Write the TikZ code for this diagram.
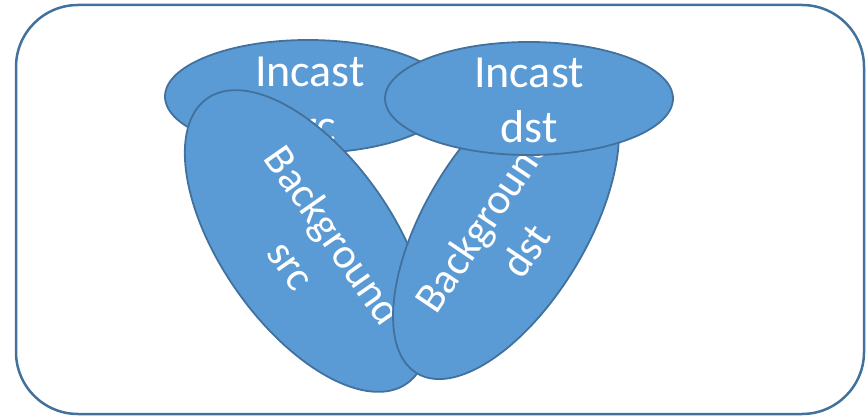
\documentclass[tikz,border=0pt]{standalone}
\usepackage{fontspec}
\setmainfont{Carlito}
\usetikzlibrary{shapes.geometric}
\definecolor{fillblue}{HTML}{5B9BD5}
\definecolor{edgeblue}{HTML}{41719C}
\tikzset{
  ell/.style={ellipse, draw=edgeblue, fill=fillblue, line width=1.8pt, inner sep=0pt},
  lbl/.style={text=white, align=center, font=\fontsize{46}{55}\selectfont, inner sep=0pt},
  slbl/.style={text=white, align=center, font=\fontsize{43}{52}\selectfont, inner sep=0pt},
  frame/.style={draw=edgeblue, line width=2.5pt, rounded corners=62pt}
}
\begin{document}
\begin{tikzpicture}[x=1pt,y=-1pt]
\useasboundingbox (0,0) rectangle (866,417);
\node[frame, minimum width=848pt, minimum height=409pt, inner sep=0pt] (outer) at (440,209.5) {};
% Incast src
\node[ell, minimum width=286pt, minimum height=113pt] (isrc) at (308,96.5) {};
\node[lbl] (isrct) at (310,99) {Incast\\src};
% Background src
\node[ell, minimum width=348pt, minimum height=172pt, rotate=-55] (bsrc) at (307,241) {};
\node[slbl, rotate=-55] (bsrct) at (313,250) {Background\\src};
% Background dst
\node[ell, minimum width=346pt, minimum height=162pt, rotate=59] (bdst) at (506,225) {};
\node[slbl, rotate=56] (bdstt) at (504,236) {Background\\dst};
% Incast dst
\node[ell, minimum width=288pt, minimum height=113pt] (idst) at (529,98.5) {};
\node[lbl] (idstt) at (529,100) {Incast\\dst};
\end{tikzpicture}
\end{document}
